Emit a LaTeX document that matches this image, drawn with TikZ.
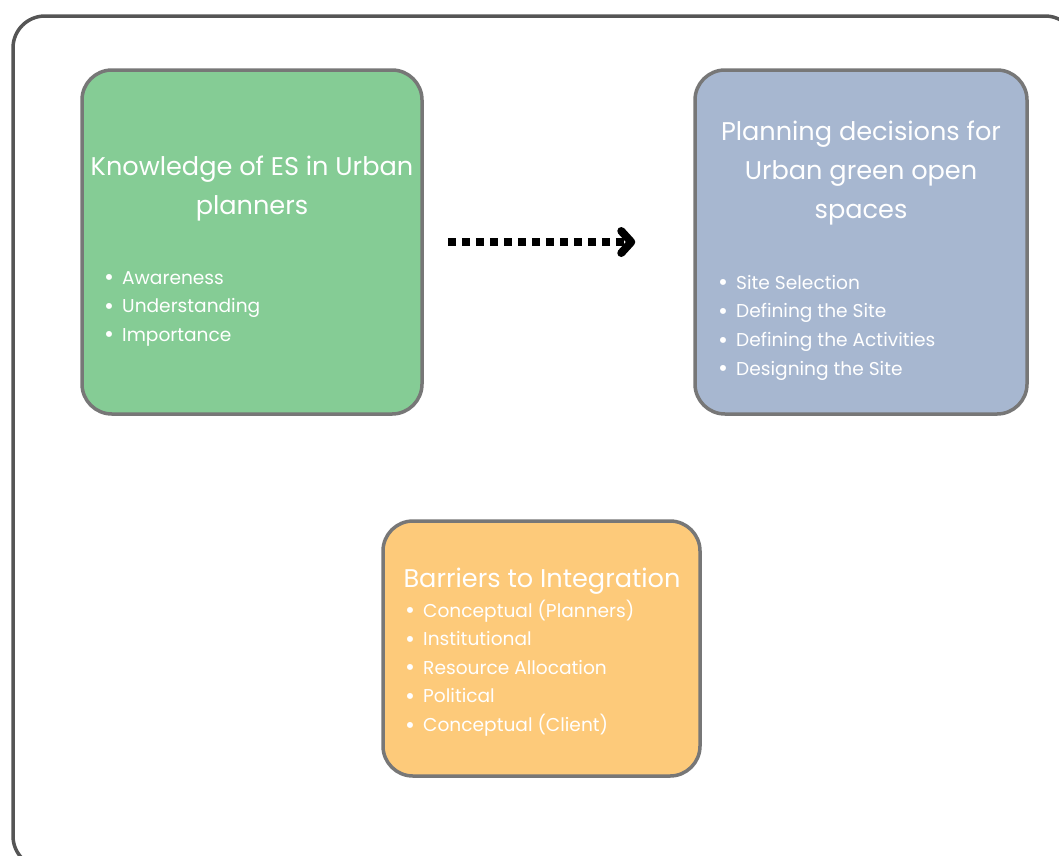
\documentclass[tikz,border=0pt]{standalone}
\usepackage{fontspec}
\setmainfont{Poppins}
\usetikzlibrary{arrows.meta}
\definecolor{frame}{HTML}{555555}
\definecolor{edge}{HTML}{777777}
\definecolor{gfill}{HTML}{85CC95}
\definecolor{bfill}{HTML}{A7B7D0}
\definecolor{ofill}{HTML}{FDCA7A}
\tikzset{
  card/.style={draw=edge, line width=3.5pt, rounded corners=30pt, inner sep=0pt},
  ttl/.style={text=white, font=\fontsize{25.6}{39}\selectfont, align=center, inner sep=0pt},
  lst/.style={text=white, font=\fontsize{18.6}{28.6}\selectfont, align=left, inner sep=0pt, anchor=north west},
  flowarrow/.style={line width=8pt, dash pattern=on 8pt off 6pt,
    -{Straight Barb[length=10pt,width=22pt,line cap=round,line join=round]}}
}
\newcommand{\bl}{\makebox[18pt][l]{\raisebox{-1.6pt}{\scalebox{1.3}{\textbullet}}}}
\begin{document}
\begin{tikzpicture}[x=1pt,y=-1pt]
\useasboundingbox (0,0) rectangle (1059,855);
\begin{scope}
\clip (0,0) rectangle (1059,855);
\node[draw=frame, line width=3.5pt, rounded corners=32pt, minimum width=1064pt, minimum height=852pt, inner sep=0pt] (frame) at (545,442) {};
\end{scope}
\node[card, fill=gfill, minimum width=340pt, minimum height=344pt] (g) at (252,242) {};
\node[card, fill=bfill, minimum width=332pt, minimum height=344pt] (b) at (861,242) {};
\node[card, fill=ofill, minimum width=317pt, minimum height=255pt] (o) at (541.5,648.5) {};
\node[ttl] (gt) at (252,188.5) {Knowledge of ES in Urban\\planners};
\node[lst] (gl) at (104,271) {\bl Awareness\\\bl Understanding\\\bl Importance};
\node[ttl] (bt) at (861,173) {Planning decisions for\\Urban green open\\spaces};
\node[lst] (bl) at (718,275) {\bl Site Selection\\\bl Defining the Site\\\bl Defining the Activities\\\bl Designing the Site};
\node[ttl] (ot) at (542,581) {Barriers to Integration};
\node[lst] (ol) at (405,599.5) {\bl Conceptual (Planners)\\\bl Institutional\\\bl Resource Allocation\\\bl Political\\\bl Conceptual (Client)};
\draw[flowarrow] ([xshift=24pt]g.east) -- ([xshift=-58pt]b.west);
\end{tikzpicture}
\end{document}
